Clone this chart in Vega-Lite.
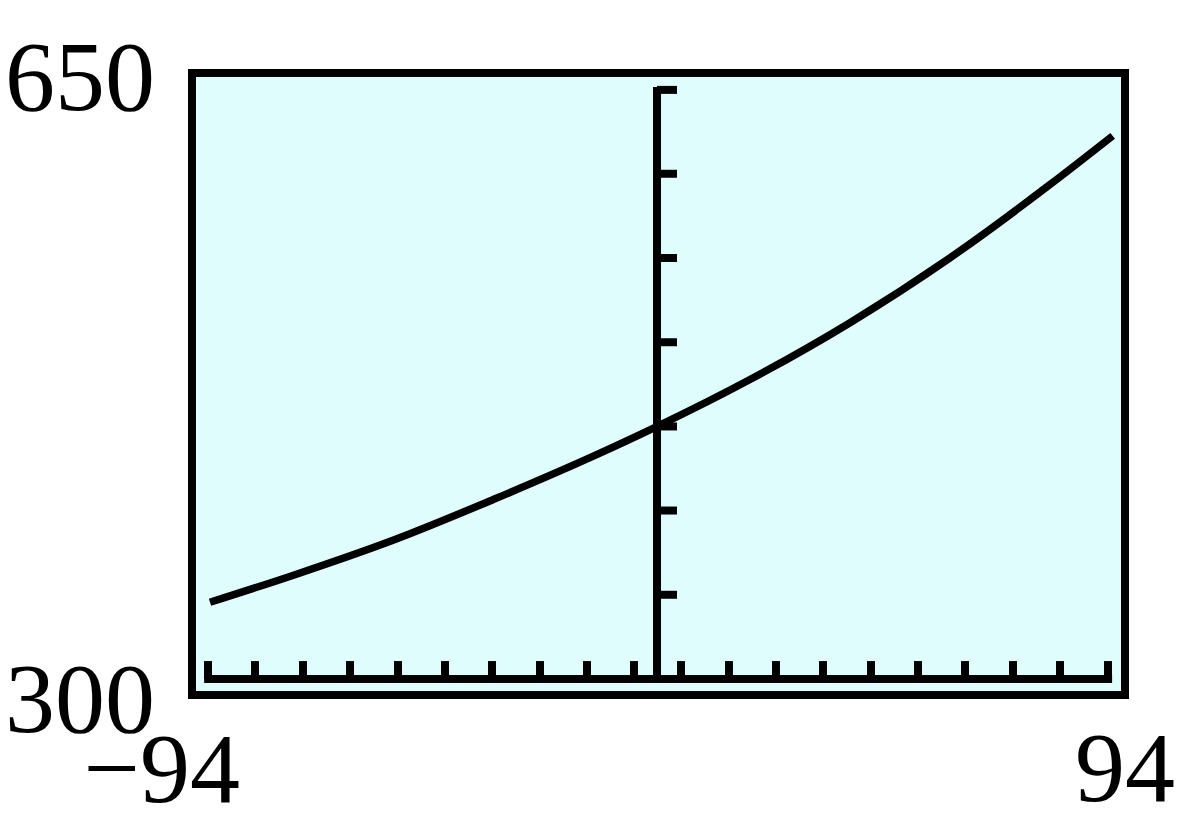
{
  "$schema": "https://vega.github.io/schema/vega-lite/v6.json",
  "width": 933,
  "height": 622,
  "autosize": "none",
  "padding": {"left": 192, "top": 73, "right": 75, "bottom": 145},
  "background": "white",
  "config": {
    "view": {"stroke": "black", "strokeWidth": 8, "fill": "#e0fdfd"},
    "text": {"font": "Liberation Serif", "fontSize": 100, "color": "black", "baseline": "alphabetic"}
  },
  "datasets": {
    "curve": [
      {"x": -90.37, "y": 352.2},
      {"x": -73.25, "y": 367.7},
      {"x": -53.1, "y": 387.5},
      {"x": -32.95, "y": 410.4},
      {"x": -12.8, "y": 434.8},
      {"x": -0.36, "y": 451.0},
      {"x": 18.44, "y": 477.5},
      {"x": 38.59, "y": 509.5},
      {"x": 58.74, "y": 546.0},
      {"x": 78.89, "y": 587.2},
      {"x": 91.52, "y": 614.6}
    ],
    "xline": [{"x": -91.55, "x2": 91.4, "y": 309}],
    "xticks": [
      {"x": -90.78}, {"x": -81.31}, {"x": -71.63}, {"x": -62.16}, {"x": -52.49},
      {"x": -43.02}, {"x": -33.55}, {"x": -23.88}, {"x": -14.41}, {"x": -4.94},
      {"x": 4.53}, {"x": 14.2}, {"x": 23.67}, {"x": 33.15}, {"x": 42.82},
      {"x": 52.29}, {"x": 61.76}, {"x": 71.43}, {"x": 80.9}, {"x": 90.58}
    ],
    "yline": [{"x": -0.3, "y": 309, "y2": 642.1}],
    "yticks": [
      {"y": 356.4}, {"y": 403.8}, {"y": 451.1}, {"y": 498.5},
      {"y": 545.9}, {"y": 593.3}, {"y": 640.5}
    ],
    "ylabels": [{"y": 650, "label": "650"}, {"y": 300, "label": "300"}],
    "xlabelLeft": [{"x": -94, "label": "−94"}],
    "xlabelRight": [{"x": 94, "label": "94"}]
  },
  "layer": [
    {
      "data": {"name": "curve"},
      "mark": {"type": "line", "color": "black", "strokeWidth": 7.5, "interpolate": "monotone", "strokeCap": "butt"},
      "encoding": {
        "x": {"field": "x", "type": "quantitative", "scale": {"domain": [-94, 94], "nice": false, "zero": false}, "axis": null},
        "y": {"field": "y", "type": "quantitative", "scale": {"domain": [300, 650], "nice": false, "zero": false}, "axis": null}
      }
    },
    {
      "data": {"name": "xline"},
      "mark": {"type": "rule", "color": "black", "strokeWidth": 8, "strokeCap": "butt"},
      "encoding": {
        "x": {"field": "x", "type": "quantitative", "axis": null},
        "x2": {"field": "x2"},
        "y": {"field": "y", "type": "quantitative", "axis": null}
      }
    },
    {
      "data": {"name": "xticks"},
      "mark": {"type": "rule", "color": "black", "strokeWidth": 8, "strokeCap": "butt"},
      "encoding": {
        "x": {"field": "x", "type": "quantitative", "axis": null},
        "y": {"datum": 309, "type": "quantitative", "axis": null},
        "y2": {"datum": 319.1}
      }
    },
    {
      "data": {"name": "yline"},
      "mark": {"type": "rule", "color": "black", "strokeWidth": 8, "strokeCap": "butt"},
      "encoding": {
        "x": {"field": "x", "type": "quantitative", "axis": null},
        "y": {"field": "y", "type": "quantitative", "axis": null},
        "y2": {"field": "y2"}
      }
    },
    {
      "data": {"name": "yticks"},
      "mark": {"type": "rule", "color": "black", "strokeWidth": 8, "strokeCap": "butt"},
      "encoding": {
        "x": {"datum": -0.3, "type": "quantitative", "axis": null},
        "x2": {"datum": 3.73},
        "y": {"field": "y", "type": "quantitative", "axis": null}
      }
    },
    {
      "data": {"name": "ylabels"},
      "mark": {"type": "text", "align": "right", "dx": -37, "dy": 37},
      "encoding": {
        "x": {"datum": -94, "type": "quantitative", "axis": null},
        "y": {"field": "y", "type": "quantitative", "axis": null},
        "text": {"field": "label"}
      }
    },
    {
      "data": {"name": "xlabelLeft"},
      "mark": {"type": "text", "align": "right", "dx": 48, "dy": 107},
      "encoding": {
        "x": {"field": "x", "type": "quantitative", "axis": null},
        "y": {"datum": 300, "type": "quantitative", "axis": null},
        "text": {"field": "label"}
      }
    },
    {
      "data": {"name": "xlabelRight"},
      "mark": {"type": "text", "align": "center", "dy": 106},
      "encoding": {
        "x": {"field": "x", "type": "quantitative", "axis": null},
        "y": {"datum": 300, "type": "quantitative", "axis": null},
        "text": {"field": "label"}
      }
    }
  ]
}
